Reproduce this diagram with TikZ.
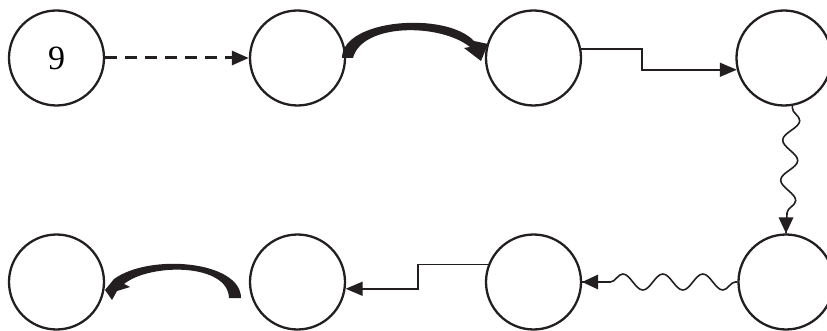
\documentclass[tikz,border=0pt]{standalone}
\usepackage{fontspec}
\setmainfont{Liberation Serif}
\usetikzlibrary{arrows.meta,decorations.pathmorphing}
\definecolor{ink}{RGB}{35,31,32}
\begin{document}
\begin{tikzpicture}[x=1pt,y=-1pt,
  state/.style={circle,draw=ink,line width=2.3pt,minimum size=95pt,inner sep=0pt},
  tri/.style={-{Triangle[length=17pt,width=14pt]}},
  thin/.style={draw=ink,line width=1.6pt},
  wave/.style={draw=ink,line width=1.6pt,decorate,
    decoration={snake,segment length=40pt,amplitude=8pt,pre length=2pt,post length=16pt}}]
\useasboundingbox (0,0) rectangle (827,331);
\node[state] (n1) at (56.5,58) {\fontsize{34}{34}\selectfont 9};
\node[state] (n2) at (297.5,58) {};
\node[state] (n3) at (533.5,58) {};
\node[state] (n4) at (784,58) {};
\node[state] (n5) at (56.5,282) {};
\node[state] (n6) at (297.5,282) {};
\node[state] (n7) at (533.5,282) {};
\node[state] (n8) at (786,282) {};
% dashed
\draw[tri,draw=ink,line width=3pt,dash pattern=on 12pt off 8pt] (n1.east) -- (n2.west);
% thick curved top
\fill[ink] (342,58) .. controls (342,19) and (446,11) .. (474,41) -- (488,44) -- (481,61) -- (464,48) -- (470,47)
  .. controls (440,23) and (362,23) .. (353,58) -- cycle;
% orthogonal 3 -> 4
\draw[thin,tri] (n3.11) -- ++(61,0) |- (n4.194);
% wavy 4 -> 8
\draw[wave] (n4.-80) -- (n8.north);
\fill[ink] (n8.north) -- ++(-7.5,-16) -- ++(15,0) -- cycle;
% wavy 8 -> 7
\draw[wave] (n8.west) -- (n7.east);
\fill[ink] (n7.east) -- ++(16,-7.5) -- ++(0,15) -- cycle;
% orthogonal 7 -> 6
\draw[thin,tri] (n7.159) -- ++(-70,0) |- (n6.-8);
% thick curved bottom
\fill[ink] (241,298) .. controls (241,261) and (150,253) .. (114,279) -- (105,290) -- (112,300) -- (117,291) -- (130,287) -- (124,284)
  .. controls (150,263) and (228,263) .. (229,298) -- cycle;
\end{tikzpicture}
\end{document}
